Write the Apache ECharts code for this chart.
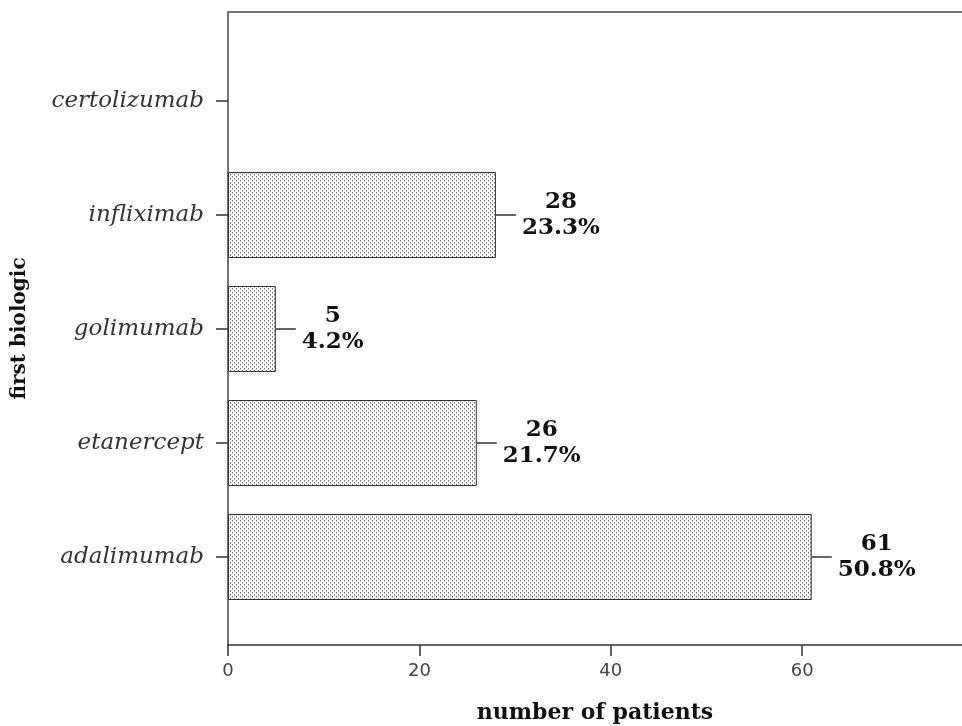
<!DOCTYPE html>
<html><head><meta charset="utf-8">
<script src="https://cdn.jsdelivr.net/npm/echarts@6/dist/echarts.min.js"></script>
<style>html,body{margin:0;padding:0;background:#fff}#c{width:962px;height:726px}</style>
</head><body><div id="c"></div>
<script>
const categories = ['adalimumab', 'etanercept', 'golimumab', 'infliximab', 'certolizumab'];
const counts = [61, 26, 5, 28, 0];
const percents = ['50.8%', '21.7%', '4.2%', '23.3%', ''];
const xTicks = [0, 20, 40, 60];

const pat = document.createElement('canvas');
pat.width = 4; pat.height = 4;
const pc = pat.getContext('2d');
pc.fillStyle = '#fff'; pc.fillRect(0, 0, 4, 4);
pc.fillStyle = '#6e6e6e';
pc.fillRect(0, 0, 1, 1); pc.fillRect(2, 2, 1, 1);
pc.fillStyle = '#b4b4b4';
pc.fillRect(0, 1, 1, 1); pc.fillRect(2, 3, 1, 1);

const serif = '"DejaVu Serif", serif';
const XMAX = 76.7;
const chart = echarts.init(document.getElementById('c'));
chart.setOption({
  animation: false,
  grid: [
    { left: 228, top: 12, right: 0, bottom: 81, containLabel: false, outerBoundsMode: 'none' },
    { left: 228, top: 44, right: 0, bottom: 112, containLabel: false, outerBoundsMode: 'none' }
  ],
  xAxis: [
    { gridIndex: 0, type: 'value', min: 0, max: XMAX, interval: 20,
      axisLine: { show: true, lineStyle: { color: '#333', width: 1.5 } },
      axisTick: { show: true, length: 11, customValues: xTicks, lineStyle: { color: '#333', width: 1.5 } },
      axisLabel: { color: '#444', fontFamily: '"DejaVu Sans", sans-serif', fontSize: 18, margin: 17,
        customValues: xTicks, formatter: v => String(v) },
      splitLine: { show: false },
      name: 'number of patients', nameLocation: 'middle', nameGap: 57,
      nameTextStyle: { fontFamily: serif, fontWeight: 'bold', fontSize: 22, color: '#111' } },
    { gridIndex: 0, type: 'value', position: 'top', min: 0, max: XMAX,
      axisLine: { show: true, lineStyle: { color: '#777', width: 2 } },
      axisTick: { show: false }, axisLabel: { show: false }, splitLine: { show: false } },
    { gridIndex: 1, type: 'value', min: 0, max: XMAX, show: false }
  ],
  yAxis: [
    { gridIndex: 0, type: 'value', min: 0, max: 1,
      axisLine: { show: true, lineStyle: { color: '#444', width: 1.5 } },
      axisTick: { show: false }, axisLabel: { show: false }, splitLine: { show: false },
      name: 'first biologic', nameLocation: 'middle', nameGap: 198,
      nameTextStyle: { fontFamily: serif, fontWeight: 'bold', fontSize: 20, color: '#111' } },
    { gridIndex: 1, type: 'category', data: categories,
      axisLine: { show: false },
      axisTick: { show: true, alignWithLabel: true, length: 12, lineStyle: { color: '#333', width: 1.5 } },
      axisLabel: { fontFamily: serif, fontStyle: 'italic', fontSize: 23, color: '#333', margin: 24 } }
  ],
  series: [
    { type: 'bar', xAxisIndex: 2, yAxisIndex: 1, barWidth: 86,
      data: counts.map(v => v > 0 ? v : { value: v, itemStyle: { borderWidth: 0 } }),
      itemStyle: { color: { image: pat, repeat: 'repeat' }, borderColor: '#333', borderWidth: 1 },
      label: { show: true, position: 'right', distance: 26,
        formatter: p => p.value > 0 ? '{c|' + p.value + '}\n{c|' + percents[p.dataIndex] + '}' : '',
        rich: { c: { align: 'center', fontFamily: serif, fontWeight: 'bold', fontSize: 23, color: '#111', lineHeight: 26 } } } },
    { type: 'custom', xAxisIndex: 2, yAxisIndex: 1, data: counts.map((v, i) => [v, i]),
      renderItem: (params, api) => {
        const v = api.value(0);
        if (!(v > 0)) return null;
        const p = api.coord([v, api.value(1)]);
        return { type: 'line', shape: { x1: p[0], y1: p[1], x2: p[0] + 20, y2: p[1] },
          style: { stroke: '#333', lineWidth: 1.5 } };
      } }
  ]
});
</script></body></html>
